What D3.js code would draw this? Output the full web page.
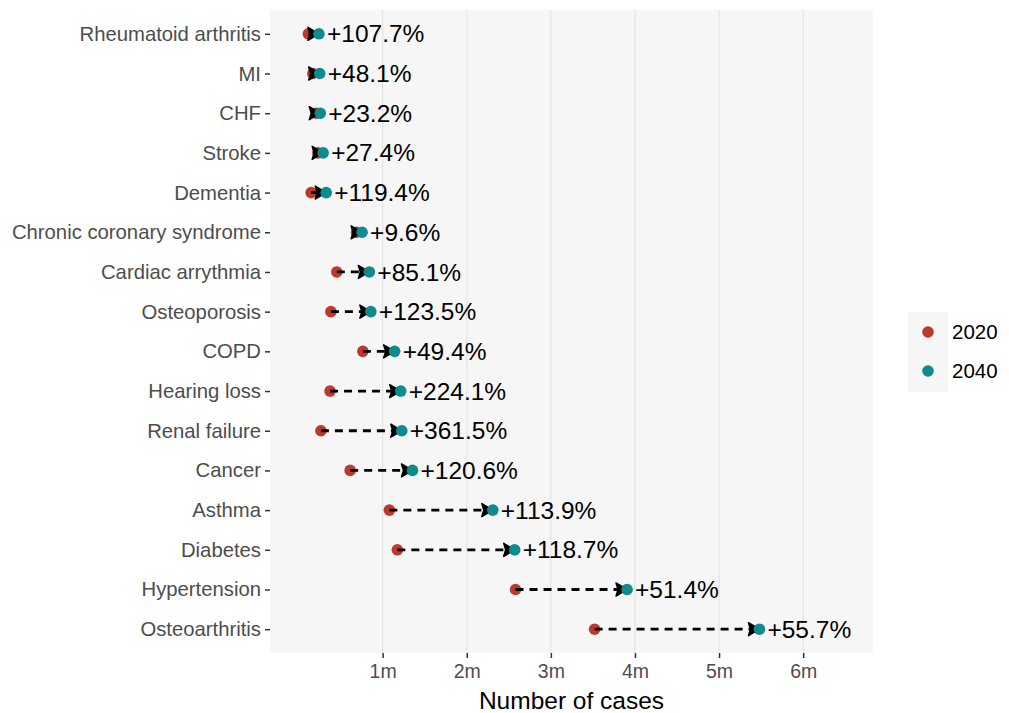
<!DOCTYPE html>
<html>
<head>
<meta charset="utf-8">
<script src="https://cdn.jsdelivr.net/npm/d3@7"></script>
<style>
  body { margin: 0; background: #fff; }
  text { font-family: "Liberation Sans", Arial, sans-serif; }
</style>
</head>
<body>
<svg width="1009" height="713"></svg>
<script>
// conditions, top to bottom
const conditions = ['Rheumatoid arthritis', 'MI', 'CHF', 'Stroke', 'Dementia',
  'Chronic coronary syndrome', 'Cardiac arrythmia', 'Osteoporosis', 'COPD',
  'Hearing loss', 'Renal failure', 'Cancer', 'Asthma', 'Diabetes',
  'Hypertension', 'Osteoarthritis'];

// number of cases, millions
const cases2020 = [0.117, 0.17, 0.21, 0.23, 0.15, 0.69, 0.455, 0.385, 0.765,
  0.375, 0.266, 0.614, 1.08, 1.175, 2.58, 3.52];
const cases2040 = [0.243, 0.252, 0.259, 0.293, 0.329, 0.756, 0.842, 0.86, 1.143,
  1.215, 1.228, 1.355, 2.31, 2.57, 3.906, 5.48];

const changeLabels = ['+107.7%', '+48.1%', '+23.2%', '+27.4%', '+119.4%', '+9.6%',
  '+85.1%', '+123.5%', '+49.4%', '+224.1%', '+361.5%', '+120.6%', '+113.9%',
  '+118.7%', '+51.4%', '+55.7%'];

const xTicks = [1, 2, 3, 4, 5, 6];
const years = ['2020', '2040'];

const colorMapping = { '2020': '#bd3a2b', '2040': '#0f8a8f' };

const data = conditions.map((c, i) => ({
  condition: c,
  from: cases2020[i],
  to: cases2040[i],
  label: changeLabels[i]
}));

const svg = d3.select('svg');
const panel = { left: 270, right: 873, top: 10, bottom: 653 };

const xScale = d3.scaleLinear()
  .domain([-0.339, 6.83])
  .range([panel.left, panel.right]);

const yScale = d3.scalePoint()
  .domain(conditions)
  .range([panel.top, panel.bottom])
  .padding(0.6);

// panel background + grid
svg.append('rect')
  .attr('x', panel.left)
  .attr('y', panel.top)
  .attr('width', panel.right - panel.left)
  .attr('height', panel.bottom - panel.top)
  .attr('fill', '#f6f6f6');

svg.append('g')
  .selectAll('line')
  .data(xTicks)
  .enter().append('line')
    .attr('x1', d => xScale(d))
    .attr('x2', d => xScale(d))
    .attr('y1', panel.top)
    .attr('y2', panel.bottom)
    .attr('stroke', '#e4e4e4')
    .attr('stroke-width', 1.2);

// axes
const xAxis = d3.axisBottom(xScale)
  .tickValues(xTicks)
  .tickFormat(d => d + 'm')
  .tickSize(5)
  .tickPadding(6);

const xAxisG = svg.append('g')
  .attr('transform', `translate(0,${panel.bottom})`)
  .call(xAxis);
xAxisG.select('.domain').remove();
xAxisG.selectAll('.tick line').attr('stroke', '#333').attr('stroke-width', 1.5);
xAxisG.selectAll('.tick text')
  .attr('fill', '#4d4d4d')
  .style('font-size', '19.5px');

const yAxis = d3.axisLeft(yScale)
  .tickSize(5)
  .tickPadding(4);

const yAxisG = svg.append('g')
  .attr('transform', `translate(${panel.left},0)`)
  .call(yAxis);
yAxisG.select('.domain').remove();
yAxisG.selectAll('.tick line').attr('stroke', '#333').attr('stroke-width', 1.5);
yAxisG.selectAll('.tick text')
  .attr('fill', '#4d4d4d')
  .style('font-size', '20.3px');

svg.append('text')
  .attr('x', (panel.left + panel.right) / 2)
  .attr('y', 709)
  .attr('text-anchor', 'middle')
  .attr('fill', '#000')
  .style('font-size', '24.5px')
  .text('Number of cases');

// 2020 points
const marks = svg.append('g');
marks.selectAll('.p2020')
  .data(data)
  .enter().append('circle')
    .attr('class', 'p2020')
    .attr('cx', d => xScale(d.from))
    .attr('cy', d => yScale(d.condition))
    .attr('r', 5.8)
    .attr('fill', colorMapping['2020']);

// dashed arrows
marks.selectAll('.seg')
  .data(data)
  .enter().append('line')
    .attr('class', 'seg')
    .attr('x1', d => xScale(d.from))
    .attr('x2', d => xScale(d.to) - 6)
    .attr('y1', d => yScale(d.condition))
    .attr('y2', d => yScale(d.condition))
    .attr('stroke', '#000')
    .attr('stroke-width', 2.8)
    .attr('stroke-dasharray', '8,6');

marks.selectAll('.head')
  .data(data)
  .enter().append('path')
    .attr('class', 'head')
    .attr('d', d => {
      const x = xScale(d.to), y = yScale(d.condition);
      return `M${x},${y} L${x - 11},${y - 6.5} L${x - 9},${y} L${x - 11},${y + 6.5} Z`;
    })
    .attr('fill', '#000')
    .attr('stroke', '#000')
    .attr('stroke-width', 1.5)
    .attr('stroke-linejoin', 'round');

// 2040 points
marks.selectAll('.p2040')
  .data(data)
  .enter().append('circle')
    .attr('class', 'p2040')
    .attr('cx', d => xScale(d.to))
    .attr('cy', d => yScale(d.condition))
    .attr('r', 5.8)
    .attr('fill', colorMapping['2040']);

marks.selectAll('.lbl')
  .data(data)
  .enter().append('text')
    .attr('class', 'lbl')
    .attr('x', d => xScale(d.to) + 8)
    .attr('y', d => yScale(d.condition))
    .attr('dy', '0.35em')
    .attr('fill', '#000')
    .style('font-size', '24.5px')
    .text(d => d.label);

// legend
svg.append('rect')
  .attr('x', 908)
  .attr('y', 312)
  .attr('width', 40)
  .attr('height', 80)
  .attr('fill', '#f6f6f6');

const legend = svg.append('g')
  .selectAll('.legend')
  .data(years)
  .enter().append('g')
    .attr('class', 'legend')
    .attr('transform', (d, i) => `translate(928, ${332 + i * 39})`);

legend.append('circle')
  .attr('r', 5.8)
  .attr('fill', d => colorMapping[d]);

legend.append('text')
  .attr('x', 24)
  .attr('dy', '.35em')
  .attr('fill', '#000')
  .style('font-size', '20.5px')
  .text(d => d);
</script>
</body>
</html>
